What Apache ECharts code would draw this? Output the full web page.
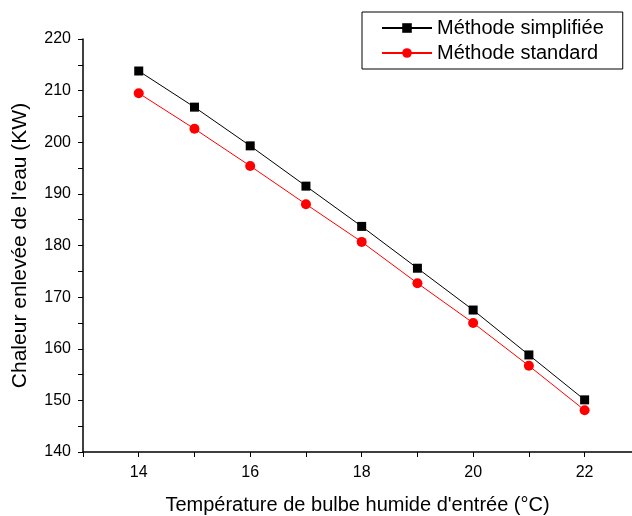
<!DOCTYPE html>
<html><head><meta charset="utf-8">
<script src="https://cdn.jsdelivr.net/npm/echarts@6/dist/echarts.min.js"></script>
<style>html,body{margin:0;padding:0;background:#fff}#c{width:632px;height:516px}</style>
</head><body><div id="c"></div>
<script>
const temps = [14, 15, 16, 17, 18, 19, 20, 21, 22];
const simplifiee = [213.8, 206.8, 199.3, 191.5, 183.7, 175.6, 167.5, 158.8, 150.1];
const standard = [209.5, 202.6, 195.4, 188.0, 180.7, 172.7, 165.0, 156.7, 148.1];
const seriesNames = ['Méthode simplifiée', 'Méthode standard'];
const xTitle = "Température de bulbe humide d'entrée (°C)";
const yTitle = "Chaleur enlevée de l'eau (KW)";

const chart = echarts.init(document.getElementById('c'), null, {renderer: 'canvas'});
const font = 'Liberation Sans, Arial, sans-serif';
chart.setOption({
  animation: false,
  backgroundColor: '#fff',
  grid: {left: 83, top: 39, right: 0, height: 413, containLabel: false, outerBoundsMode: 'none'},
  legend: {
    left: 362, top: 12,
    orient: 'vertical',
    borderColor: '#000', borderWidth: 1,
    padding: [6, 19, 6, 19],
    itemGap: 5,
    itemWidth: 50, itemHeight: 12,
    textStyle: {fontFamily: font, fontSize: 20, color: '#000', lineHeight: 20},
    data: seriesNames
  },
  xAxis: {
    type: 'value', min: 13, max: 22.85, interval: 1,
    name: xTitle, nameLocation: 'middle', nameGap: 43,
    nameTextStyle: {fontFamily: font, fontSize: 20, color: '#000'},
    axisLine: {onZero: false, lineStyle: {color: '#000', width: 1.5}},
    axisTick: {inside: false, length: 5, lineStyle: {color: '#000'}},
    axisLabel: {fontFamily: font, fontSize: 16, color: '#000', margin: 13,
      showMaxLabel: false,
      formatter: v => (v % 2 === 0 && v >= 14 && v <= 22) ? String(v) : ''},
    splitLine: {show: false}
  },
  yAxis: {
    type: 'value', min: 140, max: 220, interval: 5,
    name: yTitle, nameLocation: 'middle', nameGap: 52,
    nameTextStyle: {fontFamily: font, fontSize: 21, color: '#000'},
    axisLine: {onZero: false, lineStyle: {color: '#000', width: 1.5}},
    axisTick: {inside: false, length: 5, lineStyle: {color: '#000'}},
    axisLabel: {fontFamily: font, fontSize: 16, color: '#000', margin: 12,
      formatter: v => (v % 10 === 0) ? String(v) : ''},
    splitLine: {show: false}
  },
  series: [
    {name: seriesNames[0], type: 'line', data: temps.map((t, i) => [t, simplifiee[i]]),
     symbol: 'rect', symbolSize: 9,
     itemStyle: {color: '#000'}, lineStyle: {color: '#000', width: 1}},
    {name: seriesNames[1], type: 'line', data: temps.map((t, i) => [t, standard[i]]),
     symbol: 'circle', symbolSize: 10,
     itemStyle: {color: '#ff0000'}, lineStyle: {color: '#ff0000', width: 1}}
  ]
});
</script></body></html>
